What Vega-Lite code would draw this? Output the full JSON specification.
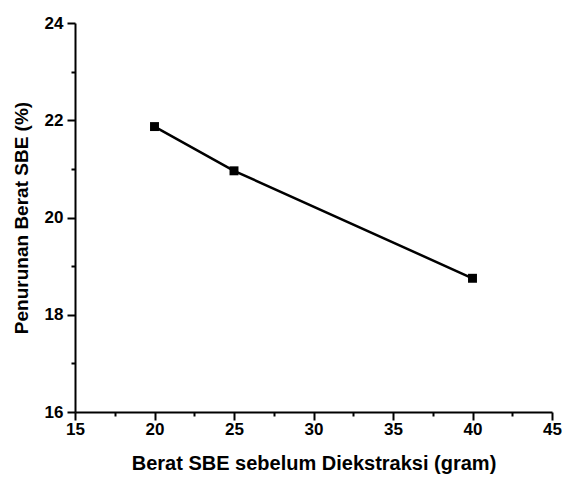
{
  "$schema": "https://vega.github.io/schema/vega-lite/v6.json",
  "autosize": {"type": "none"},
  "width": 477,
  "height": 389,
  "padding": {"left": 75, "top": 23, "right": 11, "bottom": 66},
  "background": "white",
  "config": {
    "view": {"stroke": null},
    "axis": {
      "domainColor": "black",
      "domainWidth": 2,
      "tickColor": "black",
      "tickWidth": 2,
      "grid": false,
      "labelOverlap": false,
      "labelFlush": false
    }
  },
  "data": {
    "values": [
      {"berat": 20, "penurunan": 21.87},
      {"berat": 25, "penurunan": 20.96},
      {"berat": 40, "penurunan": 18.75}
    ]
  },
  "layer": [
    {
      "mark": {"type": "line", "color": "black", "strokeWidth": 2.5},
      "encoding": {
        "x": {
          "field": "berat",
          "type": "quantitative",
          "scale": {"domain": [15, 45], "nice": false, "zero": false},
          "axis": {
            "orient": "bottom",
            "title": "Berat SBE sebelum Diekstraksi (gram)",
            "titleFont": "Liberation Sans",
            "titleFontWeight": "bold",
            "titleColor": "black",
            "titleFontSize": 20,
            "labelFont": "Liberation Sans",
            "labelFontWeight": "bold",
            "labelFontSize": 17,
            "labelColor": "black",
            "values": [15, 20, 25, 30, 35, 40, 45],
            "tickSize": 8,
            "labelPadding": 1,
            "titlePadding": 16
          }
        },
        "y": {
          "field": "penurunan",
          "type": "quantitative",
          "scale": {"domain": [16, 24], "nice": false, "zero": false},
          "axis": {
            "orient": "left",
            "title": "Penurunan Berat SBE (%)",
            "titleFont": "Liberation Sans",
            "titleFontWeight": "bold",
            "titleColor": "black",
            "titleFontSize": 19,
            "labelFont": "Liberation Sans",
            "labelFontWeight": "bold",
            "labelFontSize": 17,
            "labelColor": "black",
            "values": [16, 18, 20, 22, 24],
            "tickSize": 8,
            "labelPadding": 4,
            "titlePadding": 13
          }
        }
      }
    },
    {
      "mark": {"type": "point", "shape": "square", "filled": true, "color": "black", "opacity": 1, "size": 80},
      "encoding": {
        "x": {
          "field": "berat",
          "type": "quantitative",
          "axis": {
            "orient": "bottom",
            "title": null,
            "labels": false,
            "domain": false,
            "values": [17.5, 22.5, 27.5, 32.5, 37.5, 42.5],
            "tickSize": 4
          }
        },
        "y": {
          "field": "penurunan",
          "type": "quantitative",
          "axis": {
            "orient": "left",
            "title": null,
            "labels": false,
            "domain": false,
            "values": [17, 19, 21, 23],
            "tickSize": 4
          }
        }
      }
    }
  ],
  "resolve": {"axis": {"x": "independent", "y": "independent"}}
}
